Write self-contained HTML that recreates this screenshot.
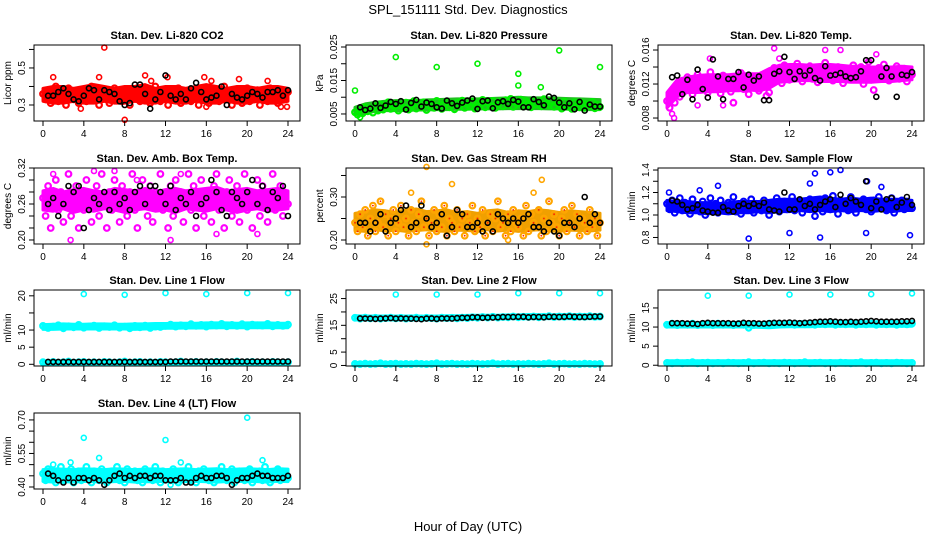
<!DOCTYPE html>
<html><head><meta charset="utf-8"><title>SPL_151111 Std. Dev. Diagnostics</title>
<style>html,body{margin:0;padding:0;background:#fff}svg{display:block}text{font-family:"Liberation Sans",sans-serif}</style>
</head><body>
<svg id="chart" width="936" height="540" viewBox="0 0 936 540" xmlns="http://www.w3.org/2000/svg">
<rect x="0" y="0" width="936" height="540" fill="#fff"/>
<text x="468" y="14" font-size="13" text-anchor="middle">SPL_151111  Std. Dev. Diagnostics</text>
<text x="468" y="531" font-size="13" text-anchor="middle">Hour of Day (UTC)</text>
</svg>
<script>
// ---------- data ----------
const xTicks = [0,4,8,12,16,20,24];

const co2Main = [0.36,0.33,0.38,0.31,0.35,0.40,0.32,0.37,0.34,0.30,0.39,0.35,0.33,0.37,0.31,0.36,0.38,0.32,0.35,0.40,0.33,0.36,0.30,0.38,0.34,0.37,0.31,0.35,0.39,0.33,0.36,0.32,0.38,0.34,0.30,0.37,0.35,0.39,0.32,0.36,0.33,0.38,0.31,0.35,0.40,0.34,0.32,0.37,0.36,0.30,0.38,0.33,0.35,0.39,0.31,0.36,0.34,0.38,0.32,0.37,0.35,0.30,0.39,0.33,0.36,0.31,0.38,0.34,0.37,0.32,0.35,0.40,0.33,0.36,0.30,0.38,0.34,0.37,0.31,0.35,0.39,0.32,0.36,0.33,0.38,0.30,0.35,0.37,0.32,0.39,0.34,0.36,0.31,0.38,0.33,0.35,0.37];
const co2Ref = [0.35,0.35,0.37,0.39,0.36,0.33,0.32,0.35,0.39,0.38,0.33,0.38,0.37,0.36,0.32,0.30,0.31,0.41,0.41,0.36,0.28,0.33,0.37,0.46,0.35,0.33,0.36,0.33,0.39,0.42,0.37,0.33,0.34,0.35,0.40,0.30,0.36,0.34,0.33,0.35,0.37,0.36,0.34,0.37,0.37,0.38,0.35,0.38];
const co2OutHours = [6,8,1,5.5,10,12.2,15.8,16.5,3.7,16,23.3,23.9,19.2,22,10.6];
const co2OutVals = [0.61,0.22,0.45,0.45,0.46,0.45,0.45,0.43,0.28,0.29,0.29,0.29,0.44,0.43,0.43];
const co2BandLo = [0.32,0.31,0.31,0.32,0.31,0.31,0.32,0.31,0.31,0.32,0.31,0.31,0.32,0.31,0.31,0.32,0.31,0.31,0.32,0.31,0.31,0.32,0.31,0.31,0.32];
const co2BandHi = [0.39,0.40,0.40,0.39,0.40,0.41,0.40,0.39,0.40,0.40,0.41,0.39,0.40,0.40,0.39,0.40,0.41,0.40,0.39,0.40,0.40,0.39,0.40,0.40,0.39];

const presMain = [0.0055,0.0048,0.0062,0.0052,0.0070,0.0058,0.0066,0.0054,0.0072,0.0060,0.0078,0.0063,0.0070,0.0085,0.0065,0.0074,0.0081,0.0060,0.0077,0.0068,0.0084,0.0063,0.0075,0.0088,0.0066,0.0079,0.0071,0.0085,0.0062,0.0076,0.0082,0.0068,0.0089,0.0073,0.0065,0.0080,0.0087,0.0070,0.0078,0.0064,0.0083,0.0075,0.0090,0.0068,0.0079,0.0072,0.0086,0.0066,0.0081,0.0077,0.0092,0.0070,0.0084,0.0075,0.0089,0.0068,0.0080,0.0087,0.0073,0.0091,0.0078,0.0095,0.0071,0.0085,0.0080,0.0093,0.0074,0.0088,0.0082,0.0070,0.0090,0.0079,0.0086,0.0073,0.0094,0.0081,0.0076,0.0089,0.0071,0.0084,0.0078,0.0066,0.0087,0.0072,0.0081,0.0065,0.0085,0.0076,0.0070,0.0083,0.0068,0.0079,0.0074,0.0086,0.0067,0.0077,0.0071];
const presRef = [0.0070,0.0062,0.0066,0.0082,0.0068,0.0075,0.0086,0.0080,0.0088,0.0063,0.0083,0.0092,0.0072,0.0084,0.0080,0.0070,0.0066,0.0090,0.0082,0.0074,0.0084,0.0090,0.0096,0.0065,0.0088,0.0090,0.0067,0.0085,0.0088,0.0080,0.0092,0.0087,0.0070,0.0070,0.0094,0.0086,0.0076,0.0102,0.0098,0.0084,0.0070,0.0082,0.0064,0.0086,0.0060,0.0078,0.0072,0.0072];
const presOutHours = [0,4,8,12,16,16,18.2,20,24,0.5];
const presOutVals = [0.012,0.022,0.019,0.020,0.017,0.0135,0.013,0.024,0.019,0.004];
const presBandLo = [0.0048,0.0052,0.0058,0.0060,0.0060,0.0060,0.0062,0.0062,0.0063,0.0063,0.0064,0.0064,0.0065,0.0065,0.0065,0.0066,0.0066,0.0066,0.0066,0.0065,0.0065,0.0064,0.0063,0.0063,0.0063];
const presBandHi = [0.0070,0.0080,0.0085,0.0088,0.0090,0.0090,0.0090,0.0092,0.0093,0.0094,0.0095,0.0095,0.0095,0.0096,0.0097,0.0098,0.0100,0.0098,0.0098,0.0098,0.0097,0.0096,0.0095,0.0094,0.0093];

const ltempMain = [0.0100,0.0092,0.0110,0.0098,0.0118,0.0105,0.0124,0.0112,0.0128,0.0115,0.0108,0.0122,0.0131,0.0113,0.0126,0.0119,0.0110,0.0134,0.0121,0.0115,0.0127,0.0109,0.0130,0.0117,0.0124,0.0111,0.0098,0.0126,0.0119,0.0133,0.0114,0.0122,0.0108,0.0128,0.0118,0.0125,0.0112,0.0130,0.0120,0.0106,0.0110,0.0124,0.0139,0.0129,0.0136,0.0121,0.0142,0.0131,0.0125,0.0138,0.0128,0.0144,0.0132,0.0123,0.0137,0.0130,0.0141,0.0126,0.0135,0.0122,0.0139,0.0130,0.0145,0.0127,0.0136,0.0124,0.0133,0.0140,0.0129,0.0121,0.0137,0.0131,0.0126,0.0142,0.0134,0.0128,0.0140,0.0120,0.0135,0.0146,0.0125,0.0113,0.0132,0.0139,0.0127,0.0143,0.0130,0.0124,0.0137,0.0129,0.0141,0.0126,0.0134,0.0138,0.0123,0.0136,0.0131];
const ltempRef = [0.0128,0.0130,0.0108,0.0125,0.0102,0.0137,0.0114,0.0104,0.0149,0.0129,0.0102,0.0126,0.0126,0.0134,0.0116,0.0131,0.0124,0.0129,0.0101,0.0101,0.0132,0.0135,0.0152,0.0134,0.0126,0.0135,0.0130,0.0136,0.0127,0.0124,0.0141,0.0130,0.0131,0.0133,0.0129,0.0127,0.0128,0.0135,0.0148,0.0148,0.0105,0.0129,0.0139,0.0129,0.0105,0.0131,0.0130,0.0134];
const ltempOutHours = [0.5,0.7,3,5.5,10.5,17,15.5,4.2,11,20.5];
const ltempOutVals = [0.0085,0.008,0.0095,0.0095,0.0162,0.016,0.016,0.015,0.015,0.0155];
const ltempBandLo = [0.0092,0.0105,0.0110,0.0110,0.0111,0.0111,0.0112,0.0112,0.0113,0.0112,0.0115,0.0122,0.0123,0.0124,0.0124,0.0123,0.0123,0.0123,0.0122,0.0122,0.0122,0.0123,0.0123,0.0124,0.0125];
const ltempBandHi = [0.0110,0.0125,0.0128,0.0130,0.0131,0.0131,0.0131,0.0132,0.0132,0.0132,0.0138,0.0142,0.0143,0.0143,0.0142,0.0143,0.0143,0.0142,0.0141,0.0141,0.0140,0.0140,0.0140,0.0141,0.0140];

const boxMain = [0.27,0.24,0.29,0.22,0.26,0.30,0.25,0.28,0.23,0.27,0.31,0.24,0.26,0.29,0.22,0.28,0.25,0.30,0.27,0.23,0.26,0.29,0.24,0.31,0.27,0.22,0.28,0.25,0.30,0.26,0.23,0.29,0.27,0.24,0.28,0.31,0.25,0.22,0.27,0.30,0.26,0.24,0.29,0.23,0.28,0.26,0.31,0.25,0.27,0.22,0.29,0.24,0.30,0.26,0.28,0.23,0.27,0.31,0.25,0.29,0.22,0.27,0.30,0.24,0.28,0.26,0.23,0.29,0.31,0.25,0.27,0.22,0.28,0.30,0.24,0.26,0.29,0.23,0.27,0.31,0.25,0.28,0.22,0.26,0.30,0.24,0.29,0.27,0.23,0.28,0.31,0.25,0.26,0.29,0.24,0.27,0.26];
const boxRef = [0.26,0.27,0.24,0.26,0.29,0.28,0.29,0.22,0.25,0.27,0.26,0.28,0.25,0.28,0.26,0.27,0.25,0.28,0.29,0.26,0.29,0.29,0.28,0.26,0.29,0.25,0.27,0.26,0.28,0.24,0.26,0.27,0.30,0.28,0.25,0.24,0.28,0.27,0.26,0.28,0.30,0.26,0.29,0.25,0.28,0.27,0.29,0.24];
const boxOutHours = [2.7,12.5,17,21,1,5,7,9.2,13.5];
const boxOutVals = [0.20,0.20,0.21,0.21,0.31,0.315,0.315,0.30,0.31];
const boxBandLo = [0.250,0.248,0.252,0.246,0.250,0.248,0.252,0.250,0.246,0.250,0.252,0.248,0.250,0.246,0.252,0.250,0.248,0.252,0.250,0.246,0.250,0.252,0.248,0.250,0.252];
const boxBandHi = [0.282,0.286,0.280,0.284,0.286,0.282,0.280,0.286,0.284,0.282,0.286,0.280,0.284,0.286,0.282,0.284,0.286,0.288,0.282,0.284,0.286,0.282,0.284,0.286,0.282];

const rhMain = [0.24,0.22,0.26,0.23,0.27,0.21,0.25,0.28,0.22,0.24,0.29,0.23,0.26,0.21,0.25,0.27,0.22,0.24,0.28,0.23,0.25,0.21,0.27,0.24,0.22,0.26,0.29,0.23,0.25,0.21,0.24,0.27,0.22,0.26,0.23,0.28,0.21,0.25,0.24,0.22,0.27,0.23,0.25,0.21,0.26,0.24,0.28,0.22,0.25,0.23,0.27,0.21,0.24,0.26,0.22,0.25,0.29,0.23,0.24,0.21,0.26,0.22,0.27,0.24,0.23,0.25,0.21,0.28,0.22,0.26,0.24,0.23,0.27,0.21,0.25,0.22,0.29,0.24,0.26,0.23,0.21,0.25,0.27,0.22,0.24,0.28,0.23,0.26,0.21,0.25,0.24,0.22,0.27,0.23,0.25,0.21,0.24];
const rhRef = [0.24,0.24,0.22,0.24,0.26,0.22,0.24,0.25,0.27,0.28,0.23,0.24,0.28,0.25,0.23,0.24,0.26,0.21,0.23,0.27,0.26,0.23,0.23,0.24,0.22,0.24,0.22,0.26,0.25,0.24,0.25,0.24,0.25,0.26,0.23,0.23,0.22,0.24,0.22,0.21,0.24,0.24,0.23,0.25,0.30,0.24,0.26,0.24];
const rhOutHours = [7,7,5.5,9.5,17.5,18.3,15];
const rhOutVals = [0.37,0.19,0.31,0.33,0.31,0.34,0.20];
const rhBandLo = [0.222,0.220,0.224,0.221,0.223,0.220,0.222,0.224,0.221,0.220,0.223,0.222,0.220,0.224,0.221,0.223,0.220,0.222,0.224,0.221,0.220,0.223,0.222,0.221,0.223];
const rhBandHi = [0.262,0.266,0.270,0.268,0.264,0.270,0.272,0.266,0.268,0.270,0.264,0.266,0.262,0.268,0.270,0.264,0.268,0.266,0.270,0.268,0.264,0.268,0.266,0.264,0.262];

const flowMain = [1.10,1.05,1.13,1.02,1.08,1.15,1.04,1.11,1.07,1.01,1.14,1.06,1.09,1.03,1.12,1.00,1.08,1.15,1.05,1.10,1.02,1.13,1.07,1.04,1.11,1.06,1.16,1.03,1.09,1.01,1.12,1.07,1.05,1.14,1.02,1.10,1.08,1.04,1.13,1.06,1.00,1.11,1.09,1.15,1.03,1.07,1.12,1.05,1.10,1.16,1.04,1.08,1.13,1.02,1.11,1.06,1.14,1.09,0.99,1.07,1.12,1.03,1.15,1.08,1.05,1.17,1.10,1.01,1.13,1.06,1.11,1.04,1.16,1.08,1.02,1.12,1.07,1.14,1.05,1.10,1.03,1.13,1.09,1.16,1.06,1.11,1.04,1.08,1.15,1.02,1.10,1.07,1.13,1.05,1.12,1.09,1.06];
const flowRef = [1.13,1.12,1.09,1.05,1.06,1.09,1.04,1.03,1.02,1.02,1.07,1.04,1.03,1.08,1.10,1.08,1.10,1.08,1.11,1.05,1.04,1.03,1.20,1.05,1.05,1.14,1.08,1.10,1.05,1.09,1.12,1.14,1.07,1.18,1.10,1.15,1.12,1.09,1.30,1.06,1.12,1.05,1.14,1.15,1.07,1.11,1.16,1.09];
const flowOutHours = [8,15,12,19.5,23.8,16,14.5,17,5,21,19.6,14,3.2,0.2];
const flowOutVals = [0.79,0.80,0.84,0.84,0.82,1.38,1.37,1.40,1.26,1.25,1.30,1.28,1.22,1.20];
const flowBandLo = [1.04,1.03,1.02,1.02,1.01,1.02,1.01,1.02,1.02,1.03,1.02,1.03,1.03,1.04,1.03,1.04,1.03,1.04,1.03,1.04,1.03,1.04,1.03,1.04,1.04];
const flowBandHi = [1.13,1.12,1.12,1.11,1.11,1.10,1.11,1.12,1.12,1.12,1.13,1.14,1.14,1.14,1.15,1.16,1.15,1.14,1.15,1.14,1.15,1.14,1.14,1.14,1.13];

const line1Hi = [11.2,10.6,11.0,11.4,10.5,11.1,10.8, 11.5,10.7,11.0,11.3,10.6,11.1,10.9, 11.4,10.7,11.0,10.5,11.2,10.8,11.3, 10.6,11.0,10.9,11.2,11.6,11.0,11.4, 11.1,11.7,11.2,11.5,11.0,11.6,11.3, 11.8,11.1,11.5,11.2,11.7,11.0,11.6, 11.4,11.3,11.8,11.1,11.5,11.2,11.6];
const line1Lo = [0.6,0.5,0.7,0.5,0.6,0.8,0.5, 0.6,0.7,0.5,0.6,0.5,0.7,0.6, 0.5,0.6,0.8,0.5,0.6,0.7,0.5, 0.6,0.5,0.7,0.6,0.5,0.6,0.8, 0.5,0.6,0.7,0.5,0.6,0.5,0.7, 0.6,0.5,0.6,0.8,0.5,0.6,0.7, 0.5,0.6,0.5,0.7,0.6,0.5,0.6];
const line1Ref = [0.7,0.7,0.7,0.7,0.7,0.7,0.7,0.7,0.7,0.7,0.7,0.7,0.7,0.7,0.7,0.7,0.7,0.7,0.7,0.7,0.7,0.7,0.7,0.7,0.8,0.8,0.8,0.8,0.8,0.8,0.8,0.8,0.8,0.8,0.8,0.8,0.8,0.8,0.8,0.8,0.8,0.8,0.8,0.8,0.8,0.8,0.8,0.8];
const line1OutHours = [4,8,12,16,20,24];
const line1OutVals = [20.5,20.3,20.8,20.5,20.8,20.8];
const line1BandLo = [10.2,10.2,10.3,10.3,10.3,10.3,10.3,10.3,10.3,10.2,10.3,10.4,10.5,10.5,10.6,10.6,10.6,10.7,10.7,10.7,10.7,10.7,10.7,10.7,10.7];
const line1BandHi = [11.6,11.7,11.8,11.7,11.7,11.8,11.8,11.7,11.7,11.8,11.8,11.9,11.9,12.0,12.0,12.0,12.1,12.1,12.1,12.0,12.1,12.1,12.1,12.0,12.0];
const line1LowBandLo = [0.1,0.1,0.1,0.1,0.1,0.1,0.1,0.1,0.1,0.1,0.1,0.1,0.1,0.1,0.1,0.1,0.1,0.1,0.1,0.1,0.1,0.1,0.1,0.1,0.1];
const line1LowBandHi = [1.0,1.0,1.0,1.0,1.0,1.0,1.0,1.0,1.0,1.0,1.0,1.0,1.0,1.0,1.0,1.0,1.0,1.0,1.0,1.0,1.0,1.0,1.0,1.0,1.0];

const line2Hi = [17.8,17.5,17.9,17.6,17.8,17.5,17.7, 17.9,17.6,17.8,17.5,17.7,17.9,17.6, 17.8,17.7,17.5,17.9,17.7,17.8,17.6, 17.9,17.7,18.0,17.8,18.1,17.9,18.2, 17.9,18.1,18.0,18.3,18.0,18.2,18.1, 18.3,18.0,18.2,18.4,18.1,18.3,18.2, 18.4,18.1,18.3,18.2,18.4,18.2,18.3];
const line2Lo = [0.6,0.5,0.7,0.5,0.6,0.8,0.5, 0.6,0.7,0.5,0.6,0.5,0.7,0.6, 0.5,0.6,0.8,0.5,0.6,0.7,0.5, 0.6,0.5,0.7,0.6,0.5,0.6,0.8, 0.5,0.6,0.7,0.5,0.6,0.5,0.7, 0.6,0.5,0.6,0.8,0.5,0.6,0.7, 0.5,0.6,0.5,0.7,0.6,0.5,0.6];
const line2Ref = [17.6,17.5,17.5,17.4,17.5,17.6,17.7,17.5,17.6,17.5,17.5,17.4,17.3,17.5,17.6,17.4,17.6,17.6,17.5,17.7,17.8,17.8,18.0,18.0,17.8,17.9,17.9,18.0,18.1,18.1,18.1,18.2,18.2,18.0,18.1,18.1,18.0,18.2,18.2,18.1,18.2,18.3,18.2,18.1,18.1,18.2,18.3,18.3];
const line2OutHours = [4,8,12,16,20,24];
const line2OutVals = [26.5,26.5,26.5,27.0,27.0,27.0];
const line2BandLo = [17.0,17.0,17.0,17.0,17.0,17.0,17.0,17.0,17.0,17.0,17.1,17.2,17.3,17.4,17.4,17.5,17.5,17.5,17.5,17.5,17.5,17.5,17.5,17.5,17.5];
const line2BandHi = [18.6,18.5,18.5,18.5,18.5,18.5,18.5,18.4,18.5,18.6,18.6,18.7,18.8,18.8,18.8,18.9,18.9,19.0,19.0,18.9,19.0,19.0,19.0,18.9,18.9];
const line2LowBandLo = [0.0,0.0,0.0,0.0,0.0,0.0,0.0,0.0,0.0,0.0,0.0,0.0,0.0,0.0,0.0,0.0,0.0,0.0,0.0,0.0,0.0,0.0,0.0,0.0,0.0];
const line2LowBandHi = [1.1,1.1,1.1,1.1,1.1,1.1,1.1,1.1,1.1,1.1,1.1,1.1,1.1,1.1,1.1,1.1,1.1,1.1,1.1,1.1,1.1,1.1,1.1,1.1,1.1];

const line3Hi = [10.6,10.9,10.5,10.8,10.6,10.9,10.5, 10.7,10.8,10.5,10.9,10.6,10.7,10.5, 10.8,10.6,9.8,10.5,10.7,10.6,10.9, 10.6,10.8,10.7,10.9,10.6,10.8,10.7, 10.9,10.6,10.8,10.7,10.9,10.6,10.8, 10.7,10.9,10.6,10.8,10.7,10.9,10.6, 10.8,10.7,10.9,10.6,10.8,10.7,10.9];
const line3Lo = [0.6,0.5,0.7,0.5,0.6,0.8,0.5, 0.6,0.7,0.5,0.6,0.5,0.7,0.6, 0.5,0.6,0.8,0.5,0.6,0.7,0.5, 0.6,0.5,0.7,0.6,0.5,0.6,0.8, 0.5,0.6,0.7,0.5,0.6,0.5,0.7, 0.6,0.5,0.6,0.8,0.5,0.6,0.7, 0.5,0.6,0.5,0.7,0.6,0.5,0.6];
const line3Ref = [11.0,11.0,11.0,10.9,10.9,10.8,11.0,11.1,11.0,11.0,11.0,11.0,10.9,10.9,11.1,11.0,11.0,10.9,10.9,11.0,11.1,11.1,11.1,11.2,11.1,11.0,11.1,11.2,11.3,11.4,11.4,11.5,11.4,11.3,11.3,11.4,11.3,11.4,11.5,11.6,11.5,11.4,11.4,11.4,11.4,11.5,11.5,11.6];
const line3OutHours = [4,8,12,16,20,24];
const line3OutVals = [18.2,18.2,18.5,18.5,18.6,18.8];
const line3BandLo = [10.0,10.0,10.0,10.0,10.0,10.0,10.0,10.0,10.0,9.9,9.8,10.0,10.1,10.1,10.1,10.2,10.2,10.2,10.2,10.2,10.2,10.2,10.2,10.2,10.2];
const line3BandHi = [11.0,11.2,11.2,11.2,11.2,11.2,11.2,11.2,11.2,11.2,11.2,11.3,11.3,11.4,11.4,11.4,11.4,11.4,11.4,11.4,11.4,11.4,11.4,11.4,11.4];
const line3LowBandLo = [0.0,0.0,0.0,0.0,0.0,0.0,0.0,0.0,0.0,0.0,0.0,0.0,0.0,0.0,0.0,0.0,0.0,0.0,0.0,0.0,0.0,0.0,0.0,0.0,0.0];
const line3LowBandHi = [1.2,1.2,1.2,1.2,1.2,1.2,1.2,1.2,1.2,1.2,1.2,1.2,1.2,1.2,1.2,1.2,1.2,1.2,1.2,1.2,1.2,1.2,1.2,1.2,1.2];

const line4Main = [0.46,0.43,0.48,0.44,0.47,0.42,0.45,0.49,0.43,0.46,0.44,0.48,0.42,0.45,0.47,0.43,0.46,0.49,0.44,0.42,0.47,0.45,0.43,0.48,0.46,0.42,0.44,0.47,0.45,0.49,0.43,0.46,0.42,0.48,0.44,0.45,0.47,0.43,0.46,0.42,0.48,0.44,0.46,0.43,0.49,0.45,0.42,0.47,0.44,0.46,0.43,0.48,0.45,0.42,0.47,0.44,0.46,0.49,0.43,0.45,0.42,0.47,0.44,0.48,0.46,0.43,0.45,0.42,0.47,0.44,0.49,0.46,0.43,0.45,0.48,0.42,0.44,0.47,0.46,0.43,0.45,0.48,0.42,0.46,0.44,0.47,0.43,0.49,0.45,0.42,0.46,0.44,0.48,0.43,0.47,0.45,0.44];
const line4Ref = [0.46,0.45,0.43,0.42,0.44,0.42,0.44,0.44,0.43,0.44,0.43,0.41,0.43,0.45,0.46,0.44,0.45,0.44,0.45,0.45,0.44,0.45,0.45,0.43,0.43,0.43,0.44,0.42,0.42,0.44,0.45,0.44,0.44,0.45,0.45,0.44,0.41,0.43,0.44,0.44,0.45,0.46,0.45,0.45,0.44,0.44,0.44,0.45];
const line4OutHours = [4,12,20,5.5,21.5,1,2.7,13.5,12.5];
const line4OutVals = [0.62,0.61,0.71,0.53,0.52,0.50,0.51,0.51,0.41];
const line4BandLo = [0.425,0.422,0.424,0.422,0.425,0.423,0.422,0.424,0.425,0.422,0.424,0.423,0.425,0.422,0.424,0.425,0.423,0.422,0.424,0.425,0.423,0.424,0.422,0.425,0.424];
const line4BandHi = [0.478,0.482,0.480,0.478,0.482,0.480,0.478,0.482,0.480,0.478,0.480,0.482,0.478,0.480,0.482,0.478,0.480,0.482,0.478,0.480,0.482,0.480,0.478,0.482,0.480];

// ---------- layout ----------
const SVGNS = "http://www.w3.org/2000/svg";
const svg = document.getElementById('chart');
const colLeft = [34, 346, 658];
const rowTop = [45, 168, 290, 413];
const BW = 266, BH = 76;

function mk(tag, attrs, parent) {
  const e = document.createElementNS(SVGNS, tag);
  for (const k in attrs) e.setAttribute(k, attrs[k]);
  (parent || svg).appendChild(e);
  return e;
}

const panels = [
  {name:'co2', title:'Stan. Dev. Li-820 CO2', ylab:'Licor ppm', col:0,row:0, dom:[0.2135,0.624], ticks:[0.3,0.4,0.5,0.6], labels:[0.3,0.5], dp:1, color:'#ff0000',
   bands:[[co2BandLo,co2BandHi]], series:[[co2Main,'main'],[co2OutVals,'out',co2OutHours],[co2Ref,'ref']]},
  {name:'pressure', title:'Stan. Dev. Li-820 Pressure', ylab:'kPa', col:1,row:0, dom:[0.0029,0.0256], ticks:[0.005,0.010,0.015,0.020,0.025], labels:[0.005,0.015,0.025], dp:3, color:'#00ee00', bandColor:'#22c022',
   bands:[[presBandLo,presBandHi]], series:[[presMain,'main'],[presOutVals,'out',presOutHours],[presRef,'ref']]},
  {name:'li820-temp', title:'Stan. Dev. Li-820 Temp.', ylab:'degrees C', col:2,row:0, dom:[0.00765,0.01659], ticks:[0.008,0.010,0.012,0.014,0.016], labels:[0.008,0.012,0.016], dp:3, color:'#ff00ff',
   bands:[[ltempBandLo,ltempBandHi]], series:[[ltempMain,'main'],[ltempOutVals,'out',ltempOutHours],[ltempRef,'ref']]},
  {name:'amb-box-temp', title:'Stan. Dev. Amb. Box Temp.', ylab:'degrees C', col:0,row:1, dom:[0.1933,0.32], ticks:[0.20,0.22,0.24,0.26,0.28,0.30,0.32], labels:[0.20,0.26,0.32], dp:2, color:'#ff00ff',
   bands:[[boxBandLo,boxBandHi]], series:[[boxMain,'main'],[boxOutVals,'out',boxOutHours],[boxRef,'ref']]},
  {name:'gas-stream-rh', title:'Stan. Dev. Gas Stream RH', ylab:'percent', col:1,row:1, dom:[0.1907,0.3674], ticks:[0.20,0.25,0.30,0.35], labels:[0.20,0.30], dp:2, color:'#ffa500', dot:'#ff2000', bandColor:'#f0a000',
   bands:[[rhBandLo,rhBandHi]], series:[[rhMain,'main'],[rhOutVals,'out',rhOutHours],[rhRef,'ref']]},
  {name:'sample-flow', title:'Stan. Dev. Sample Flow', ylab:'ml/min', col:2,row:1, dom:[0.742,1.418], ticks:[0.8,0.9,1.0,1.1,1.2,1.3,1.4], labels:[0.8,1.0,1.2,1.4], dp:1, color:'#0000ff',
   bands:[[flowBandLo,flowBandHi]], series:[[flowMain,'main'],[flowOutVals,'out',flowOutHours],[flowRef,'ref']]},
  {name:'line1-flow', title:'Stan. Dev. Line 1 Flow', ylab:'ml/min', col:0,row:2, dom:[-0.5,21.7], ticks:[0,5,10,15,20], labels:[0,5,10,20], dp:0, color:'#00ffff',
   bands:[[line1BandLo,line1BandHi],[line1LowBandLo,line1LowBandHi]], series:[[line1Hi,'main'],[line1Lo,'main'],[line1OutVals,'out',line1OutHours],[line1Ref,'ref']]},
  {name:'line2-flow', title:'Stan. Dev. Line 2 Flow', ylab:'ml/min', col:1,row:2, dom:[-0.2,28.2], ticks:[0,5,10,15,20,25], labels:[0,5,15,25], dp:0, color:'#00ffff',
   bands:[[line2BandLo,line2BandHi],[line2LowBandLo,line2LowBandHi]], series:[[line2Hi,'main'],[line2Lo,'main'],[line2OutVals,'out',line2OutHours],[line2Ref,'ref']]},
  {name:'line3-flow', title:'Stan. Dev. Line 3 Flow', ylab:'ml/min', col:2,row:2, dom:[-0.2,19.7], ticks:[0,5,10,15], labels:[0,5,10,15], dp:0, color:'#00ffff',
   bands:[[line3BandLo,line3BandHi],[line3LowBandLo,line3LowBandHi]], series:[[line3Hi,'main'],[line3Lo,'main'],[line3OutVals,'out',line3OutHours],[line3Ref,'ref']]},
  {name:'line4-flow', title:'Stan. Dev. Line 4 (LT) Flow', ylab:'ml/min', col:0,row:3, dom:[0.391,0.731], ticks:[0.40,0.45,0.50,0.55,0.60,0.65,0.70], labels:[0.40,0.55,0.70], dp:2, color:'#00ffff',
   bands:[[line4BandLo,line4BandHi]], series:[[line4Main,'main'],[line4OutVals,'out',line4OutHours],[line4Ref,'ref']]}
];

panels.forEach(p => {
  const L = colLeft[p.col], T = rowTop[p.row], B = T + BH;
  const xs = h => L + 9 + h * (245 / 24);
  const ys = v => B - (v - p.dom[0]) / (p.dom[1] - p.dom[0]) * BH;
  const g = mk('g', {});
  
  

  const t = mk('text', {x: L + BW/2, y: T - 6, 'font-size': 11, 'font-weight': 'bold', 'text-anchor': 'middle'}, g);
  t.textContent = p.title;
  
  

  const yl = mk('text', {x: 0, y: 0, 'font-size': 10, 'text-anchor': 'middle', transform: `translate(${L-23},${T+BH/2}) rotate(-90)`}, g);
  yl.textContent = p.ylab;
  
  

  // dense cloud bands (envelope of overplotted points)
  (p.bands || []).forEach(b => {
    const lo = b[0], hi = b[1], n = lo.length;
    let d = '';
    hi.forEach((v, i) => { d += (i ? 'L' : 'M') + xs(i * 24 / (n - 1)).toFixed(1) + ',' + ys(v).toFixed(1); });
    for (let i = n - 1; i >= 0; i--) d += 'L' + xs(i * 24 / (n - 1)).toFixed(1) + ',' + ys(lo[i]).toFixed(1);
    d += 'Z';
    const col = p.bandColor || p.color;
    const band = mk('path', {d: d, fill: col, stroke: col, 'stroke-width': 3, 'stroke-linejoin': 'round'}, g);
    
    
  });

  // points
  const pts = mk('g', {}, g);
  
  
  p.series.forEach(s => {
    const vals = s[0], kind = s[1];
    vals.forEach((v, i) => {
      let h;
      if (kind === 'out') h = s[2][i];
      else if (kind === 'ref') h = 0.5 + i * 23.5 / (vals.length - 1);
      else h = i * 24 / (vals.length - 1);
      const cx = xs(h), cy = ys(v);
      const c = mk('circle', {cx: cx.toFixed(1), cy: cy.toFixed(1), r: kind === 'main' ? 2.8 : 2.5,
        fill: 'none', stroke: kind === 'ref' ? '#000' : p.color, 'stroke-width': kind === 'main' ? 2.2 : 1.6}, pts);
      
      
      if (p.dot && kind === 'main') {
        const d = mk('circle', {cx: cx.toFixed(1), cy: cy.toFixed(1), r: 0.9, fill: p.dot}, pts);
        
        
      }
    });
  });

  const box = mk('rect', {x: L, y: T, width: BW, height: BH, fill: 'none', stroke: '#000', 'stroke-width': 1}, g);
  
  

  const xa = mk('g', {stroke: '#000', 'stroke-width': 1}, g);
  
  
  xTicks.forEach(h => {
    mk('line', {x1: xs(h), x2: xs(h), y1: B, y2: B + 5}, xa);
    const tl = mk('text', {x: xs(h), y: B + 16, 'font-size': 10, 'text-anchor': 'middle', stroke: 'none', fill: '#000'}, xa);
    tl.textContent = String(h);
    
    
  });

  const ya = mk('g', {stroke: '#000', 'stroke-width': 1}, g);
  
  
  p.ticks.forEach(v => mk('line', {x1: L - 5, x2: L, y1: ys(v), y2: ys(v)}, ya));
  p.labels.forEach(v => {
    const tl = mk('text', {x: 0, y: 0, 'font-size': 10, 'text-anchor': 'middle', stroke: 'none', fill: '#000',
      transform: `translate(${L-9},${ys(v).toFixed(1)}) rotate(-90)`}, ya);
    tl.textContent = v.toFixed(p.dp);
    
    
  });
});
</script>
</body></html>
